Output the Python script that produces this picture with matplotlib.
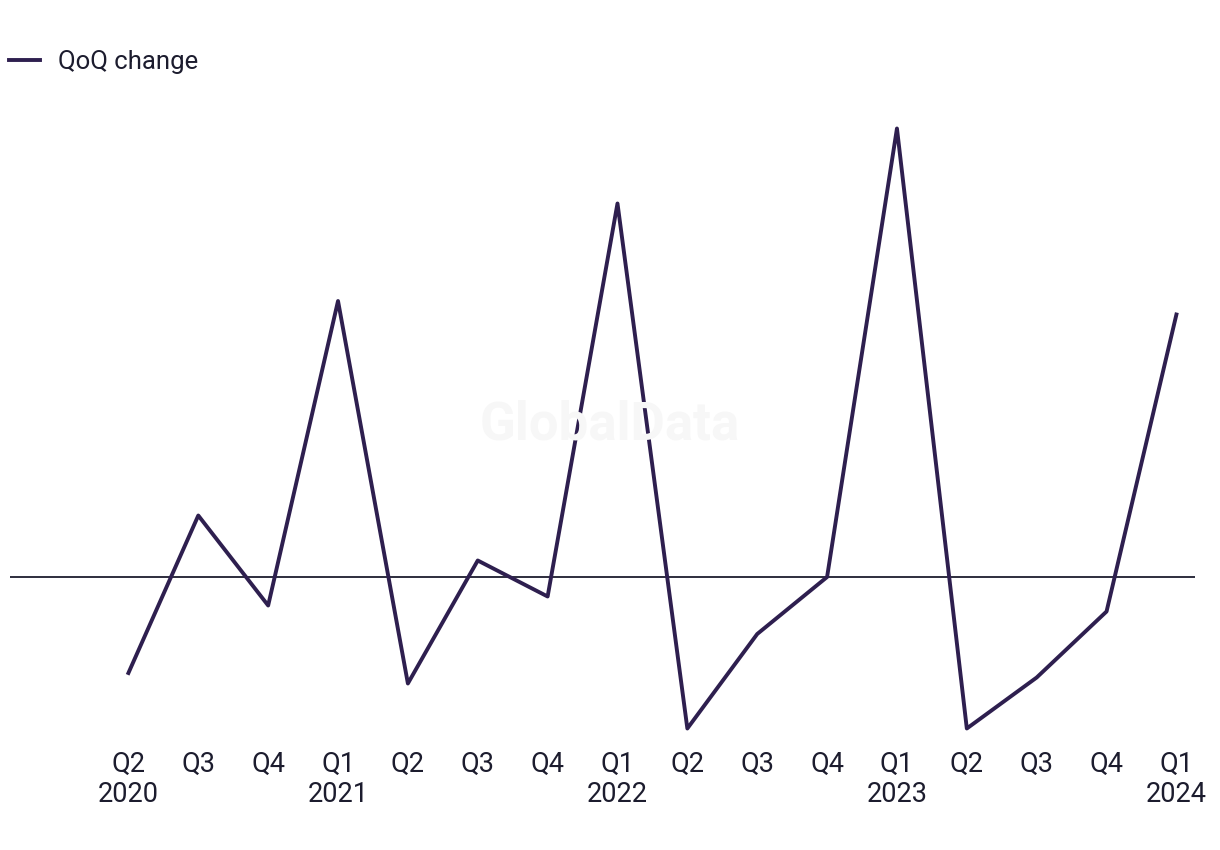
import matplotlib
matplotlib.use("Agg")
import matplotlib.pyplot as plt

plt.rcParams["font.family"] = ["Roboto", "DejaVu Sans"]

quarters = ["Q2", "Q3", "Q4", "Q1", "Q2", "Q3", "Q4", "Q1",
            "Q2", "Q3", "Q4", "Q1", "Q2", "Q3", "Q4", "Q1"]
years = ["2020", "", "", "2021", "", "", "", "2022",
         "", "", "", "2023", "", "", "", "2024"]
qoq_change = [-6.4, 4.1, -1.9, 18.4, -7.1, 1.1, -1.3, 24.9,
              -10.1, -3.8, 0.0, 29.9, -10.1, -6.7, -2.3, 17.5]

LINE = "#2e1f4f"
TEXT = "#1c1c2e"

W, H = 1220, 850
fig = plt.figure(figsize=(W / 100, H / 100), dpi=100)
ax = fig.add_axes([10 / W, 1 - 740 / H, 1185 / W, 640 / H])

x = list(range(len(qoq_change)))
ax.plot([i + 0.02 for i in x], qoq_change, color=LINE, linewidth=2.8,
        label="QoQ change", zorder=3)
ax.axhline(0, color=TEXT, linewidth=1.3, zorder=2)

ax.set_xlim(-1.675, 15.286)
ax.set_ylim(-163 / 15, 477 / 15)

ax.set_xticks([i + 0.02 for i in x])
ax.set_xticklabels([q + "\n" + y if y else q for q, y in zip(quarters, years)],
                   fontsize=19.5, color=TEXT, linespacing=1.15, va="top")
ax.tick_params(axis="x", length=0, pad=8)
ax.set_yticks([])
for s in ax.spines.values():
    s.set_visible(False)

fig.text(610 / W, 1 - 425 / H, "GlobalData", fontsize=38, fontweight="bold",
         color="#f7f7f7", ha="center", va="center", zorder=0)

fig.legend(loc="center left", bbox_to_anchor=(9 / W, 1 - 62 / H), frameon=False,
           fontsize=18.5, handlelength=1.2, handletextpad=0.7,
           borderaxespad=0, borderpad=0, labelcolor=TEXT)

fig.savefig("out.png", dpi=100)
